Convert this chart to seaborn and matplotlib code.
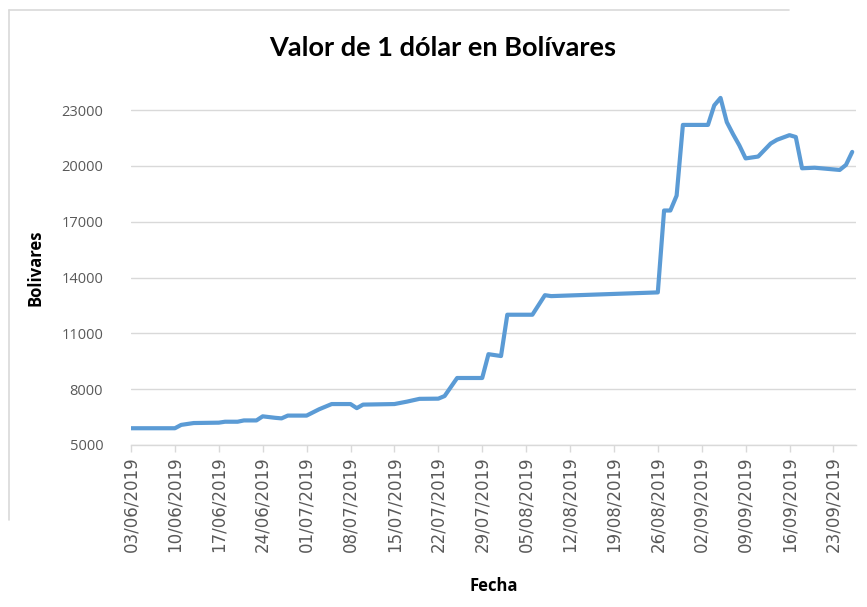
import matplotlib
matplotlib.use("Agg")
import matplotlib.pyplot as plt
from matplotlib.lines import Line2D
import seaborn as sns
import pandas as pd

# ---- data ----
fechas = [
    "03/06/2019", "10/06/2019", "11/06/2019", "13/06/2019", "17/06/2019", "18/06/2019",
    "20/06/2019", "21/06/2019", "23/06/2019", "24/06/2019", "26/06/2019", "27/06/2019",
    "28/06/2019", "01/07/2019", "03/07/2019", "05/07/2019", "08/07/2019", "09/07/2019",
    "10/07/2019", "15/07/2019", "17/07/2019", "19/07/2019", "22/07/2019", "23/07/2019",
    "25/07/2019", "29/07/2019", "30/07/2019", "01/08/2019", "02/08/2019", "06/08/2019",
    "08/08/2019", "09/08/2019", "26/08/2019", "27/08/2019", "28/08/2019", "29/08/2019",
    "30/08/2019", "03/09/2019", "04/09/2019", "05/09/2019", "06/09/2019", "07/09/2019",
    "08/09/2019", "09/09/2019", "11/09/2019", "13/09/2019", "14/09/2019", "16/09/2019",
    "17/09/2019", "18/09/2019", "20/09/2019", "24/09/2019", "25/09/2019", "26/09/2019",
]
valores = [
    5900, 5900, 6080, 6180, 6200, 6250,
    6250, 6320, 6320, 6540, 6460, 6430,
    6580, 6580, 6920, 7200, 7200, 6980,
    7170, 7200, 7330, 7480, 7490, 7630,
    8600, 8600, 9880, 9780, 12000, 12000,
    13050, 13000, 13200, 17600, 17600, 18400,
    22200, 22200, 23250, 23650, 22350, 21700,
    21100, 20400, 20500, 21200, 21400, 21650,
    21550, 19870, 19900, 19780, 20050, 20750,
]
y_ticks = [5000, 8000, 11000, 14000, 17000, 20000, 23000]
x_tick_fechas = ["03/06/2019", "10/06/2019", "17/06/2019", "24/06/2019", "01/07/2019",
                 "08/07/2019", "15/07/2019", "22/07/2019", "29/07/2019", "05/08/2019",
                 "12/08/2019", "19/08/2019", "26/08/2019", "02/09/2019", "09/09/2019",
                 "16/09/2019", "23/09/2019"]

titulo = "Valor de 1 dólar en Bolívares"
etiqueta_x = "Fecha"
etiqueta_y = "Bolivares"

df = pd.DataFrame({"Fecha": pd.to_datetime(fechas, format="%d/%m/%Y"), "Valor": valores})
xt = pd.to_datetime(x_tick_fechas, format="%d/%m/%Y")

sns.set_theme(style="white")
plt.rcParams["font.family"] = ["Open Sans", "DejaVu Sans"]

fig = plt.figure(figsize=(8.67, 6.07), dpi=100)
ax = fig.add_axes([0.1511, 0.2669, 0.8362, 0.5825])

sns.lineplot(data=df, x="Fecha", y="Valor", ax=ax, color="#5B9BD5", linewidth=3.0,
             solid_joinstyle="round", solid_capstyle="round")

start = df["Fecha"].iloc[0]
ax.set_xlim(start, start + pd.Timedelta(days=115.6))
ax.set_ylim(5000, 24000)
ax.set_yticks(y_ticks)
ax.set_yticklabels([str(v) for v in y_ticks], color="#595959", fontsize=10.5)
ax.set_xticks(xt)
ax.set_xticklabels(x_tick_fechas, rotation=90, color="#595959", fontsize=12,
                   family="DejaVu Sans")
ax.yaxis.grid(True, color="#d9d9d9", linewidth=1.0)
ax.xaxis.grid(False)
for s in ["top", "right", "left"]:
    ax.spines[s].set_visible(False)
ax.spines["bottom"].set_color("#d9d9d9")
ax.spines["bottom"].set_linewidth(1.0)
ax.tick_params(axis="x", bottom=True, length=5, width=1, color="#d9d9d9", pad=3)
ax.tick_params(axis="y", left=False, pad=14)

ax.set_xlabel(etiqueta_x, fontsize=12, fontweight="bold", color="black", labelpad=18)
ax.set_ylabel(etiqueta_y, fontsize=12, fontweight="bold", color="black", labelpad=12)

fig.text(0.51, 0.921, titulo, ha="center", va="center", fontsize=19.5, fontweight="bold",
         family=["Lato", "DejaVu Sans"], color="black")

# partial chart-area border (top and left)
fig.add_artist(Line2D([9/867, 789/867], [1-10/607, 1-10/607], transform=fig.transFigure,
                      color="#d9d9d9", linewidth=1.2))
fig.add_artist(Line2D([9/867, 9/867], [1-10/607, 1-520/607], transform=fig.transFigure,
                      color="#d9d9d9", linewidth=1.2))

fig.savefig("out.png", dpi=100)
